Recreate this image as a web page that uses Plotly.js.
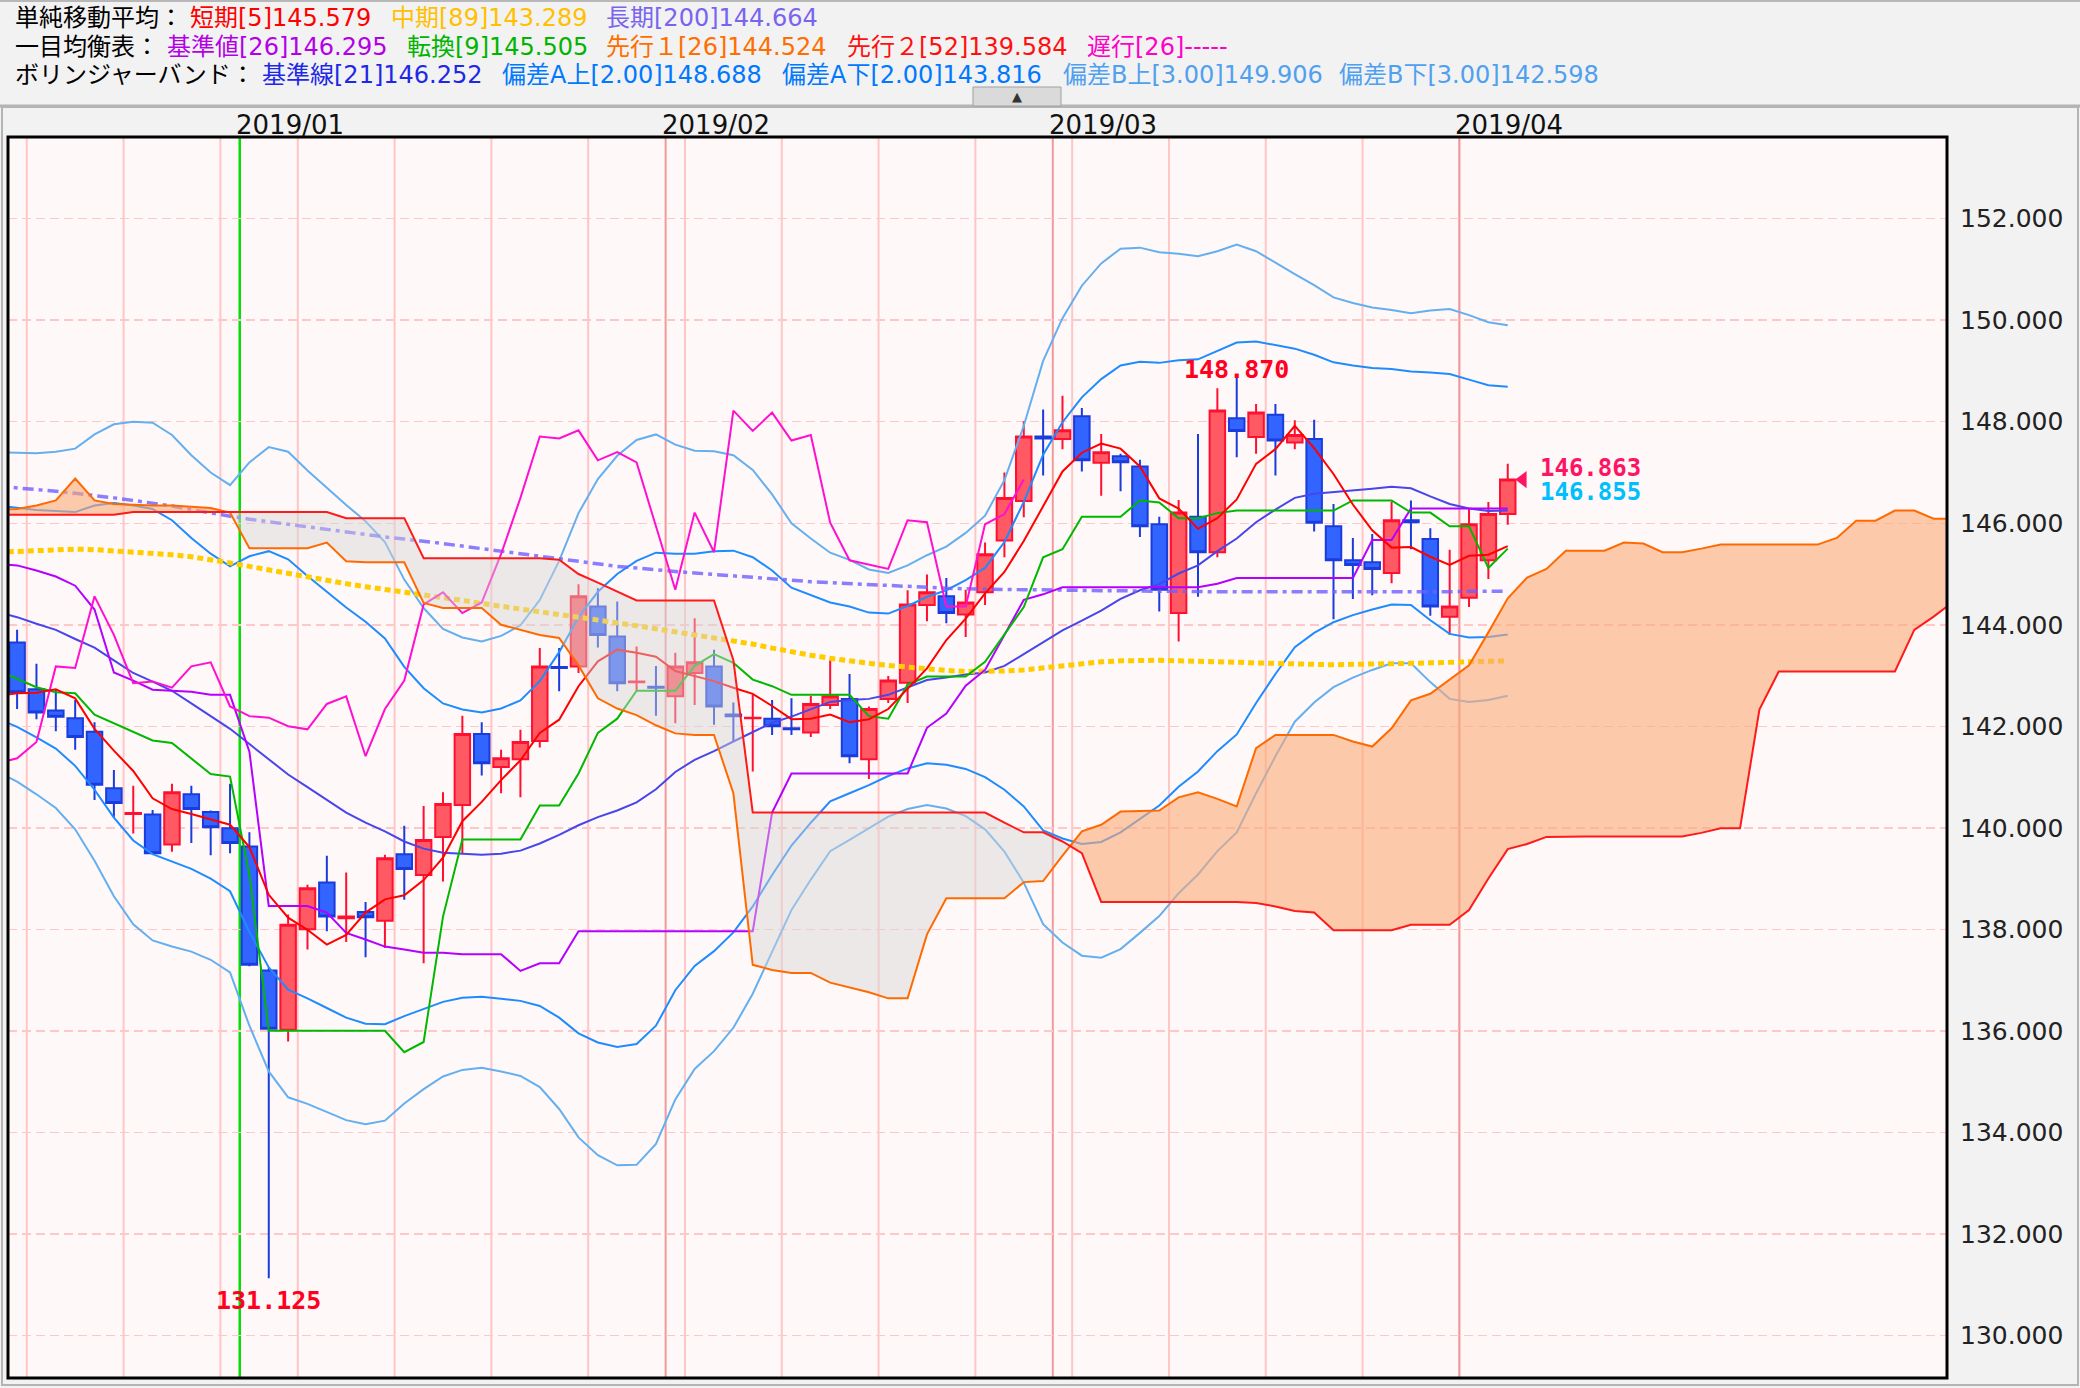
<!DOCTYPE html>
<html>
<head>
<meta charset="utf-8">
<script src="https://cdn.plot.ly/plotly-3.0.1.min.js"></script>
<style>
html,body{margin:0;padding:0;background:#f2f2f2;}
#chart{width:2080px;height:1388px;}
</style>
</head>
<body>
<div id="chart"></div>
<script>
// ---------------- DATA ----------------
const dates = ["2018-12-14","2018-12-17","2018-12-18","2018-12-19","2018-12-20","2018-12-21","2018-12-24","2018-12-25","2018-12-26","2018-12-27",
"2018-12-28","2018-12-31","2019-01-02","2019-01-03","2019-01-04","2019-01-07","2019-01-08","2019-01-09","2019-01-10","2019-01-11",
"2019-01-14","2019-01-15","2019-01-16","2019-01-17","2019-01-18","2019-01-21","2019-01-22","2019-01-23","2019-01-24","2019-01-25",
"2019-01-28","2019-01-29","2019-01-30","2019-01-31","2019-02-01","2019-02-04","2019-02-05","2019-02-06","2019-02-07","2019-02-08",
"2019-02-11","2019-02-12","2019-02-13","2019-02-14","2019-02-15","2019-02-18","2019-02-19","2019-02-20","2019-02-21","2019-02-22",
"2019-02-25","2019-02-26","2019-02-27","2019-02-28","2019-03-01","2019-03-04","2019-03-05","2019-03-06","2019-03-07","2019-03-08",
"2019-03-11","2019-03-12","2019-03-13","2019-03-14","2019-03-15","2019-03-18","2019-03-19","2019-03-20","2019-03-21","2019-03-22",
"2019-03-25","2019-03-26","2019-03-27","2019-03-28","2019-03-29","2019-04-01","2019-04-02","2019-04-03"];

const openP = [143.65,142.73,142.31,142.16,141.89,140.78,140.27,140.26,139.67,140.66,
140.31,139.99,139.63,137.19,136.02,138.00,138.92,138.22,138.34,138.17,
139.48,139.07,139.82,140.45,141.85,141.20,141.35,141.71,143.17,143.18,
144.36,143.77,142.87,142.78,142.59,143.05,143.18,142.23,142.16,142.15,
141.96,141.88,142.42,142.54,141.35,142.54,142.86,144.39,144.56,144.20,
144.64,145.66,146.44,147.71,147.66,148.11,147.19,147.32,147.12,145.98,
144.23,146.13,145.43,148.07,147.70,148.14,147.59,147.66,145.94,145.27,
145.23,145.02,146.06,145.69,144.16,144.53,145.27,146.18];
const highP = [143.90,143.23,142.72,142.52,142.08,141.14,140.83,140.35,140.87,140.83,
140.34,140.87,139.91,137.25,138.29,138.88,139.45,139.12,138.54,139.47,
140.04,140.43,140.70,142.21,142.08,141.54,141.93,143.54,143.54,144.80,
144.72,144.46,143.57,143.19,143.45,144.13,143.51,142.47,142.62,142.52,
142.55,142.60,143.31,143.03,142.39,142.99,144.68,144.99,144.92,144.69,
145.62,147.00,148.01,148.24,148.51,148.27,147.76,147.37,147.25,146.13,
146.46,147.76,148.66,148.87,148.35,148.35,148.03,148.04,146.38,145.71,
145.79,146.43,146.45,145.90,145.48,146.29,146.42,147.17];
const lowP = [142.34,142.14,141.90,141.54,140.55,140.21,139.89,139.48,139.53,139.70,
139.46,139.50,137.27,131.125,135.79,137.60,137.96,137.75,137.45,137.63,
138.58,137.33,138.94,139.50,141.03,140.68,140.60,141.58,142.69,143.05,
143.55,142.69,142.69,142.21,142.06,142.42,142.03,141.70,141.11,141.83,
141.83,141.79,142.34,141.27,140.96,142.46,142.46,144.07,144.03,143.76,
144.39,145.33,146.12,146.94,147.46,147.02,146.54,146.63,145.73,144.26,
143.67,144.55,145.33,147.30,147.37,146.94,147.46,145.84,144.11,144.51,
144.58,144.82,145.49,144.18,143.80,144.35,144.90,145.97];
const closeP = [142.67,142.27,142.19,141.79,140.85,140.49,140.29,139.50,140.70,140.37,
140.01,139.70,137.30,136.04,138.09,138.81,138.25,138.25,138.24,139.40,
139.19,139.76,140.47,141.85,141.27,141.37,141.69,143.18,143.15,144.56,
143.80,142.85,142.88,142.76,143.18,143.26,142.39,142.20,142.17,142.00,
141.94,142.44,142.59,141.41,142.34,142.90,144.40,144.64,144.23,144.44,
145.39,146.50,147.71,147.67,147.83,147.24,147.40,147.20,145.94,144.69,
146.21,145.43,148.22,147.82,148.18,147.63,147.74,146.01,145.27,145.18,
145.10,146.06,146.02,144.36,144.36,145.98,146.18,146.86];

// Indicator series: first value sits one bar before the first candle (index -1)
const IND_START = -1;
const sma5 = [142.60,142.65,142.66,142.73,142.55,141.95,141.52,141.12,140.58,140.37,140.27,
140.17,140.06,139.62,138.68,138.23,137.99,137.70,137.89,138.33,138.59,
138.67,138.97,139.41,140.13,140.51,140.94,141.33,141.87,142.13,142.79,
143.28,143.51,143.45,143.37,143.09,142.99,142.89,142.76,142.64,142.40,
142.14,142.15,142.23,142.08,142.14,142.34,142.73,143.14,143.70,144.12,
144.62,145.04,145.65,146.34,147.02,147.39,147.57,147.47,147.12,146.49,
146.29,145.89,146.10,146.47,147.17,147.46,147.92,147.48,146.97,146.37,
145.86,145.52,145.53,145.34,145.18,145.36,145.38,145.55];
const sma89 = [145.43,145.45,145.47,145.48,145.49,145.48,145.46,145.44,145.41,145.38,145.34,
145.29,145.22,145.15,145.08,145.00,144.93,144.87,144.81,144.75,144.70,
144.65,144.60,144.54,144.48,144.42,144.36,144.30,144.25,144.20,144.15,
144.10,144.04,143.98,143.92,143.86,143.80,143.75,143.70,143.62,143.54,
143.46,143.40,143.34,143.28,143.24,143.20,143.16,143.12,143.10,143.08,
143.08,143.09,143.11,143.15,143.20,143.24,143.27,143.29,143.30,143.30,
143.29,143.28,143.27,143.25,143.23,143.22,143.21,143.21,143.21,143.22,
143.22,143.23,143.24,143.25,143.26,143.27,143.28,143.29];
const sma200 = [146.73,146.70,146.67,146.63,146.59,146.55,146.50,146.45,146.40,146.34,146.27,
146.20,146.14,146.08,146.03,145.98,145.93,145.87,145.82,145.77,145.73,
145.69,145.65,145.60,145.55,145.50,145.45,145.40,145.35,145.30,145.25,
145.20,145.15,145.12,145.08,145.05,145.02,144.99,144.96,144.93,144.90,
144.87,144.85,144.83,144.81,144.79,144.77,144.75,144.73,144.72,144.71,
144.70,144.70,144.69,144.69,144.68,144.68,144.67,144.67,144.66,144.66,
144.66,144.65,144.65,144.65,144.65,144.65,144.64,144.64,144.64,144.64,
144.64,144.64,144.65,144.65,144.65,144.66,144.66,144.66];
const kijun = [145.20,145.17,145.07,144.95,144.77,144.30,143.06,142.90,142.72,142.70,142.68,
142.62,142.62,141.50,138.46,138.46,138.46,138.33,137.93,137.80,137.66,
137.60,137.54,137.54,137.51,137.51,137.51,137.18,137.33,137.33,137.96,
137.96,137.96,137.96,137.96,137.96,137.96,137.96,137.96,137.96,140.30,
141.07,141.07,141.07,141.07,141.07,141.07,141.07,141.97,142.25,142.80,
143.11,143.80,144.49,144.60,144.74,144.74,144.74,144.74,144.74,144.74,
144.74,144.74,144.81,144.92,144.92,144.92,144.92,144.92,144.92,144.92,
145.67,145.67,146.29,146.29,146.29,146.29,146.29,146.29];
const tenkan = [143.10,142.93,142.77,142.67,142.65,142.23,142.06,141.90,141.72,141.67,141.37,
141.06,141.01,139.07,136.00,136.00,136.00,136.00,136.00,136.00,136.00,
135.58,135.78,138.25,139.77,139.77,139.77,139.77,140.44,140.44,141.07,
141.87,142.15,142.70,142.70,142.70,143.19,143.42,143.25,142.92,142.79,
142.62,142.62,142.62,142.62,142.20,142.15,142.82,142.98,142.98,142.98,
143.27,143.80,144.35,145.33,145.49,146.13,146.13,146.13,146.45,146.41,
146.10,146.10,146.20,146.25,146.25,146.25,146.25,146.25,146.25,146.45,
146.45,146.45,146.21,146.21,145.94,145.94,145.12,145.50];
const bbMid = [144.25,144.15,144.02,143.90,143.72,143.55,143.30,143.05,142.88,142.70,142.45,
142.20,141.95,141.65,141.35,141.05,140.80,140.55,140.30,140.10,139.93,
139.73,139.59,139.51,139.49,139.47,139.49,139.55,139.69,139.86,140.05,
140.21,140.34,140.50,140.76,141.10,141.34,141.51,141.70,141.89,142.07,
142.19,142.34,142.48,142.52,142.54,142.62,142.77,142.91,142.96,143.02,
143.06,143.19,143.42,143.65,143.89,144.08,144.28,144.51,144.68,144.80,
145.01,145.17,145.45,145.70,146.02,146.27,146.50,146.58,146.61,146.65,
146.68,146.72,146.69,146.53,146.38,146.29,146.24,146.25];
const bbUp2 = [146.35,146.31,146.26,146.24,146.22,146.35,146.40,146.35,146.28,146.06,145.71,
145.40,145.15,145.35,145.45,145.29,144.96,144.65,144.34,144.06,143.73,
143.17,142.75,142.45,142.33,142.27,142.35,142.51,142.89,143.46,144.15,
144.65,145.00,145.26,145.42,145.40,145.40,145.45,145.46,145.33,145.07,
144.73,144.58,144.44,144.36,144.24,144.22,144.37,144.55,144.68,144.88,
145.12,145.63,146.42,147.35,147.99,148.48,148.84,149.11,149.18,149.16,
149.21,149.23,149.39,149.56,149.58,149.51,149.44,149.32,149.17,149.11,
149.06,149.04,148.99,148.97,148.94,148.83,148.72,148.69];
const bbLo2 = [142.15,141.99,141.78,141.56,141.22,140.75,140.20,139.75,139.48,139.34,139.19,
139.00,138.75,137.95,137.25,136.81,136.64,136.45,136.26,136.14,136.13,
136.29,136.43,136.57,136.65,136.67,136.63,136.59,136.49,136.26,135.95,
135.77,135.68,135.74,136.10,136.80,137.28,137.57,137.94,138.45,139.07,
139.65,140.10,140.52,140.68,140.84,141.02,141.17,141.27,141.24,141.16,
141.00,140.75,140.42,139.95,139.79,139.68,139.72,139.91,140.18,140.44,
140.81,141.11,141.51,141.84,142.46,143.03,143.56,143.84,144.05,144.19,
144.30,144.40,144.39,144.09,143.82,143.75,143.76,143.81];
const bbUp3 = [147.40,147.39,147.38,147.41,147.47,147.75,147.95,148.00,147.98,147.74,147.34,
147.00,146.75,147.20,147.50,147.41,147.04,146.70,146.36,146.04,145.63,
144.89,144.33,143.92,143.75,143.67,143.78,143.99,144.49,145.26,146.20,
146.87,147.33,147.64,147.75,147.55,147.43,147.42,147.34,147.05,146.57,
146.00,145.70,145.42,145.28,145.09,145.02,145.17,145.37,145.54,145.81,
146.15,146.85,147.92,149.20,150.04,150.68,151.12,151.41,151.43,151.34,
151.31,151.26,151.36,151.49,151.36,151.13,150.91,150.69,150.45,150.34,
150.25,150.20,150.14,150.19,150.22,150.10,149.96,149.90];
const bbLo3 = [141.10,140.91,140.66,140.39,139.97,139.35,138.65,138.10,137.78,137.66,137.56,
137.40,137.15,136.10,135.20,134.69,134.56,134.40,134.24,134.16,134.23,
134.57,134.85,135.10,135.23,135.27,135.20,135.11,134.89,134.46,133.90,
133.55,133.35,133.36,133.77,134.65,135.25,135.60,136.06,136.73,137.57,
138.38,138.98,139.54,139.76,139.99,140.22,140.37,140.45,140.38,140.23,
139.97,139.53,138.92,138.10,137.74,137.48,137.44,137.61,137.93,138.26,
138.71,139.08,139.54,139.91,140.68,141.41,142.09,142.47,142.77,142.96,
143.11,143.24,143.24,142.87,142.54,142.48,142.52,142.60];

// Lagging span (close plotted 25 bars back), first value at index -1
const LAG_START = -1;
const chikou = [141.27,141.37,141.69,143.18,143.15,144.56,143.80,142.85,142.88,142.76,
143.18,143.26,142.39,142.20,142.17,142.00,141.94,142.44,142.59,141.41,
142.34,142.90,144.40,144.64,144.23,144.44,145.39,146.50,147.71,147.67,
147.83,147.24,147.40,147.20,145.94,144.69,146.21,145.43,148.22,147.82,
148.18,147.63,147.74,146.01,145.27,145.18,145.10,146.06,146.02,144.36,
144.36,145.98,146.18,146.86];

// Leading spans (plotted 25 bars ahead), index -1 .. 100
const SPAN_START = -1;
const senkouA = [146.27,146.28,146.35,146.45,146.88,146.45,146.38,146.36,146.35,146.35,146.33,
146.30,146.21,145.51,145.51,145.51,145.51,145.62,145.25,145.23,145.23,
145.23,144.43,144.33,144.33,144.33,144.00,143.90,143.80,143.74,143.20,
142.55,142.35,142.22,142.02,141.86,141.83,141.83,140.68,137.30,137.20,
137.14,137.14,136.95,136.85,136.76,136.64,136.64,137.90,138.61,138.61,
138.61,138.61,138.93,138.95,139.45,139.93,140.06,140.32,140.33,140.34,
140.60,140.70,140.57,140.42,141.57,141.83,141.83,141.83,141.83,141.70,
141.60,141.96,142.51,142.64,142.92,143.20,143.85,144.52,144.93,145.10,
145.46,145.46,145.46,145.62,145.60,145.43,145.43,145.50,145.58,145.58,
145.58,145.58,145.58,145.58,145.71,146.05,146.05,146.25,146.25,146.09,146.09];
const senkouB = [146.17,146.17,146.17,146.17,146.17,146.17,146.17,146.22,146.22,146.22,146.22,
146.22,146.22,146.22,146.22,146.22,146.22,146.22,146.10,146.10,146.10,
146.10,145.31,145.31,145.31,145.31,145.31,145.31,145.31,145.28,145.00,
144.83,144.65,144.48,144.48,144.48,144.48,144.48,143.30,140.30,140.30,
140.30,140.30,140.30,140.30,140.30,140.30,140.30,140.30,140.30,140.30,
140.30,140.10,139.91,139.91,139.73,139.50,138.54,138.54,138.54,138.54,
138.54,138.54,138.54,138.54,138.52,138.45,138.36,138.33,137.98,137.98,
137.98,137.98,138.09,138.09,138.09,138.38,139.00,139.58,139.68,139.82,
139.83,139.83,139.83,139.83,139.83,139.83,139.83,139.90,139.99,139.99,
142.33,143.08,143.08,143.08,143.08,143.08,143.08,143.08,143.90,144.16,144.45];

const yTicks = [130,132,134,136,138,140,142,144,146,148,150,152];

// Header legend texts
const hdrRow1 = ["単純移動平均：","短期[5]145.579","中期[89]143.289","長期[200]144.664"];
const hdrRow2 = ["一目均衡表：","基準値[26]146.295","転換[9]145.505","先行１[26]144.524","先行２[52]139.584","遅行[26]-----"];
const hdrRow3 = ["ボリンジャーバンド：","基準線[21]146.252","偏差A上[2.00]148.688","偏差A下[2.00]143.816","偏差B上[3.00]149.906","偏差B下[3.00]142.598"];
const priceTags = ["146.863","146.855"];

// ---------------- LAYOUT HELPERS ----------------
const W = 2080, H = 1388;
const M = {l: 8, r: 133, t: 137, b: 10};
const PW = W - M.l - M.r, PH = H - M.t - M.b;
const px = x => (x - M.l) / PW;
const py = y => (H - M.b - y) / PH;
const xs = (arr, start) => arr.map((_, k) => start + k);
const idx = dates.map((_, i) => i);

const traces = [];

traces.push({
  type: 'candlestick', x: idx, open: openP, high: highP, low: lowP, close: closeP,
  increasing: {line: {color: '#ff1030', width: 2}, fillcolor: '#ff5a64'},
  decreasing: {line: {color: '#1a3cdc', width: 2}, fillcolor: '#3264ff'},
  whiskerwidth: 0, hoverinfo: 'skip', showlegend: false
});

function line(y, start, color, width, dash) {
  return {type: 'scatter', mode: 'lines', x: xs(y, start), y: y,
    line: {color: color, width: width, dash: dash || 'solid'}, hoverinfo: 'skip', showlegend: false};
}

traces.push(line(bbUp3, IND_START, '#64aff0', 2));
traces.push(line(bbLo3, IND_START, '#64aff0', 2));
traces.push(line(bbUp2, IND_START, '#1e8cff', 2));
traces.push(line(bbLo2, IND_START, '#1e8cff', 2));
traces.push(line(bbMid, IND_START, '#4646eb', 2));
traces.push(line(sma200, IND_START, 'rgba(110,95,255,0.8)', 3.5, '11px,5px,4px,5px'));
traces.push(line(sma89, IND_START, '#ffcc00', 5, '6px,4px'));
traces.push(line(kijun, IND_START, '#b400ff', 2));
traces.push(line(tenkan, IND_START, '#00b800', 2));
traces.push(line(chikou, LAG_START, '#ff10d0', 2));
traces.push(line(sma5, IND_START, '#ff0000', 2));

// Cloud (kumo) polygons between the two leading spans
function cloud(A, B, start) {
  const pts = [];
  for (let k = 0; k < A.length; k++) {
    if (k > 0) {
      const d0 = A[k-1] - B[k-1], d1 = A[k] - B[k];
      if (d0 * d1 < 0) {
        const t = d0 / (d0 - d1);
        const yc = A[k-1] + t * (A[k] - A[k-1]);
        pts.push({x: start + k - 1 + t, a: yc, b: yc, cross: true});
      }
    }
    pts.push({x: start + k, a: A[k], b: B[k]});
  }
  const runs = []; let cur = [], sign = 0;
  for (const p of pts) {
    if (p.cross) { cur.push(p); runs.push({sign, pts: cur}); cur = [p]; sign = 0; continue; }
    if (sign === 0) sign = Math.sign(p.a - p.b);
    cur.push(p);
  }
  runs.push({sign, pts: cur});
  const up = {x: [], y: []}, dn = {x: [], y: []};
  for (const r of runs) {
    const tg = r.sign >= 0 ? up : dn;
    const rx = r.pts.map(p => p.x);
    tg.x.push(...rx, ...rx.slice().reverse(), null);
    tg.y.push(...r.pts.map(p => p.a), ...r.pts.map(p => p.b).reverse(), null);
  }
  return {up, dn};
}
const kumo = cloud(senkouA, senkouB, SPAN_START);
traces.push({type: 'scatter', mode: 'lines', x: kumo.up.x, y: kumo.up.y, fill: 'toself',
  fillcolor: 'rgba(250,170,120,0.6)', line: {width: 0}, hoverinfo: 'skip', showlegend: false});
traces.push({type: 'scatter', mode: 'lines', x: kumo.dn.x, y: kumo.dn.y, fill: 'toself',
  fillcolor: 'rgba(215,212,212,0.45)', line: {width: 0}, hoverinfo: 'skip', showlegend: false});
traces.push(line(senkouA, SPAN_START, '#ff6a00', 2));
traces.push(line(senkouB, SPAN_START, '#ff1a1a', 2));

const last = closeP.length - 1;
traces.push({type: 'scatter', mode: 'markers', x: [last + 0.78], y: [closeP[last]],
  marker: {symbol: 'triangle-left', size: 15, color: '#ff1464'}, hoverinfo: 'skip', showlegend: false});

// ---------------- SHAPES ----------------
const shapes = [];
const monthLines = [];
for (let k = 1; k < dates.length; k++) {
  const d = new Date(dates[k] + 'T00:00:00Z'), p = new Date(dates[k-1] + 'T00:00:00Z');
  if (d.getUTCDay() === 1 || d.getUTCDay() < p.getUTCDay()) {
    shapes.push({type: 'line', xref: 'x', yref: 'paper', x0: k - 0.5, x1: k - 0.5, y0: 0, y1: 1,
      line: {color: '#ffc6c6', width: 2}, layer: 'below'});
  }
  if (d.getUTCMonth() !== p.getUTCMonth()) monthLines.push({k, yearChange: d.getUTCFullYear() !== p.getUTCFullYear(), d});
}
for (const m of monthLines) {
  shapes.push({type: 'line', xref: 'x', yref: 'paper', x0: m.k - 0.5, x1: m.k - 0.5, y0: 0, y1: 1,
    line: {color: m.yearChange ? '#00e000' : '#f29a9a', width: m.yearChange ? 2.5 : 2}, layer: 'below'});
}
// frame of plotting area
shapes.push({type: 'rect', xref: 'paper', yref: 'paper', x0: 0, x1: 1, y0: 0, y1: 1,
  line: {color: '#000', width: 3}, layer: 'above'});
// panel borders
shapes.push({type: 'line', xref: 'paper', yref: 'paper', x0: px(0), x1: px(W), y0: py(1), y1: py(1), line: {color: '#b8b8b8', width: 2}});
shapes.push({type: 'line', xref: 'paper', yref: 'paper', x0: px(0), x1: px(W), y0: py(106), y1: py(106), line: {color: '#b4b4b4', width: 3}});
shapes.push({type: 'rect', xref: 'paper', yref: 'paper', x0: px(2), x1: px(2078), y0: py(107), y1: py(1385), line: {color: '#b4b4b4', width: 2}});
// collapse button
shapes.push({type: 'rect', xref: 'paper', yref: 'paper', x0: px(973), x1: px(1061), y0: py(87), y1: py(106),
  fillcolor: '#dadada', line: {color: '#a0a0a0', width: 1}});

// ---------------- ANNOTATIONS ----------------
const annotations = [];
const HF = "DejaVu Sans, 'Noto Sans CJK JP', sans-serif";
function hdr(text, x, y, color) {
  annotations.push({xref: 'paper', yref: 'paper', x: px(x), y: py(y), xanchor: 'left', yanchor: 'middle',
    text: text, showarrow: false, font: {family: HF, size: 24, color: color}});
}
const row1X = [13, 188, 389, 604], row1C = ['#000', '#ff0000', '#ffc000', '#7864f0'];
hdrRow1.forEach((t, i) => hdr(t, row1X[i], 18, row1C[i]));
const row2X = [13, 165, 405, 604, 845, 1085], row2C = ['#000', '#b400e6', '#00b400', '#ff6e00', '#ff1010', '#ff00c8'];
hdrRow2.forEach((t, i) => hdr(t, row2X[i], 47, row2C[i]));
const row3X = [13, 260, 500, 780, 1061, 1337], row3C = ['#000', '#1e28e6', '#0078ff', '#0078ff', '#50a0f0', '#50a0f0'];
hdrRow3.forEach((t, i) => hdr(t, row3X[i], 75, row3C[i]));
annotations.push({xref: 'paper', yref: 'paper', x: px(1017), y: py(96), xanchor: 'center', yanchor: 'middle',
  text: '▲', showarrow: false, font: {family: 'DejaVu Sans', size: 13, color: '#333'}});

// month labels
for (const m of monthLines) {
  const t = m.d.getUTCFullYear() + '/' + String(m.d.getUTCMonth() + 1).padStart(2, '0');
  annotations.push({xref: 'x', yref: 'paper', x: m.k - 0.5, y: py(125), xanchor: 'left', yanchor: 'middle', xshift: -6,
    text: t, showarrow: false, font: {family: 'DejaVu Sans', size: 26, color: '#111'}});
}

// max / min labels
let iMax = 0, iMin = 0;
highP.forEach((v, i) => { if (v > highP[iMax]) iMax = i; });
lowP.forEach((v, i) => { if (v < lowP[iMin]) iMin = i; });
const LF = "DejaVu Sans Mono, monospace";
annotations.push({xref: 'x', yref: 'y', x: iMax, y: highP[iMax], xanchor: 'center', yanchor: 'bottom', yshift: -8,
  text: '<b>' + highP[iMax].toFixed(3) + '</b>', showarrow: false, font: {family: LF, size: 25, color: '#ff0020'}});
annotations.push({xref: 'x', yref: 'y', x: iMin, y: lowP[iMin], xanchor: 'center', yanchor: 'top', yshift: -6,
  text: '<b>' + lowP[iMin].toFixed(3) + '</b>', showarrow: false, font: {family: LF, size: 25, color: '#ff0020'}});
annotations.push({xref: 'paper', yref: 'paper', x: px(1538), y: py(468), xanchor: 'left', yanchor: 'middle',
  text: '<b>' + priceTags[0] + '</b>', showarrow: false, font: {family: LF, size: 24, color: '#ff1464'}});
annotations.push({xref: 'paper', yref: 'paper', x: px(1538), y: py(492), xanchor: 'left', yanchor: 'middle',
  text: '<b>' + priceTags[1] + '</b>', showarrow: false, font: {family: LF, size: 24, color: '#00bfff'}});

const layout = {
  width: W, height: H,
  margin: {l: M.l, r: M.r, t: M.t, b: M.b, pad: 0},
  paper_bgcolor: '#f2f2f2', plot_bgcolor: '#fff8f8',
  showlegend: false,
  boxgap: 0.2, boxgroupgap: 0,
  xaxis: {range: [-0.47, 99.69], showgrid: false, zeroline: false, showticklabels: false, ticks: '',
    rangeslider: {visible: false}, fixedrange: true},
  yaxis: {range: [129.16, 153.61], side: 'right', tickvals: yTicks, tickformat: '.3f',
    showgrid: true, gridcolor: '#ffc8c8', gridwidth: 1.5, griddash: '9px,5px', zeroline: false,
    ticks: '', ticklabelstandoff: 12, tickfont: {family: 'DejaVu Sans', size: 25, color: '#222'}, fixedrange: true},
  shapes: shapes,
  annotations: annotations
};

Plotly.newPlot('chart', traces, layout, {displayModeBar: false, staticPlot: true});
</script>
</body>
</html>
